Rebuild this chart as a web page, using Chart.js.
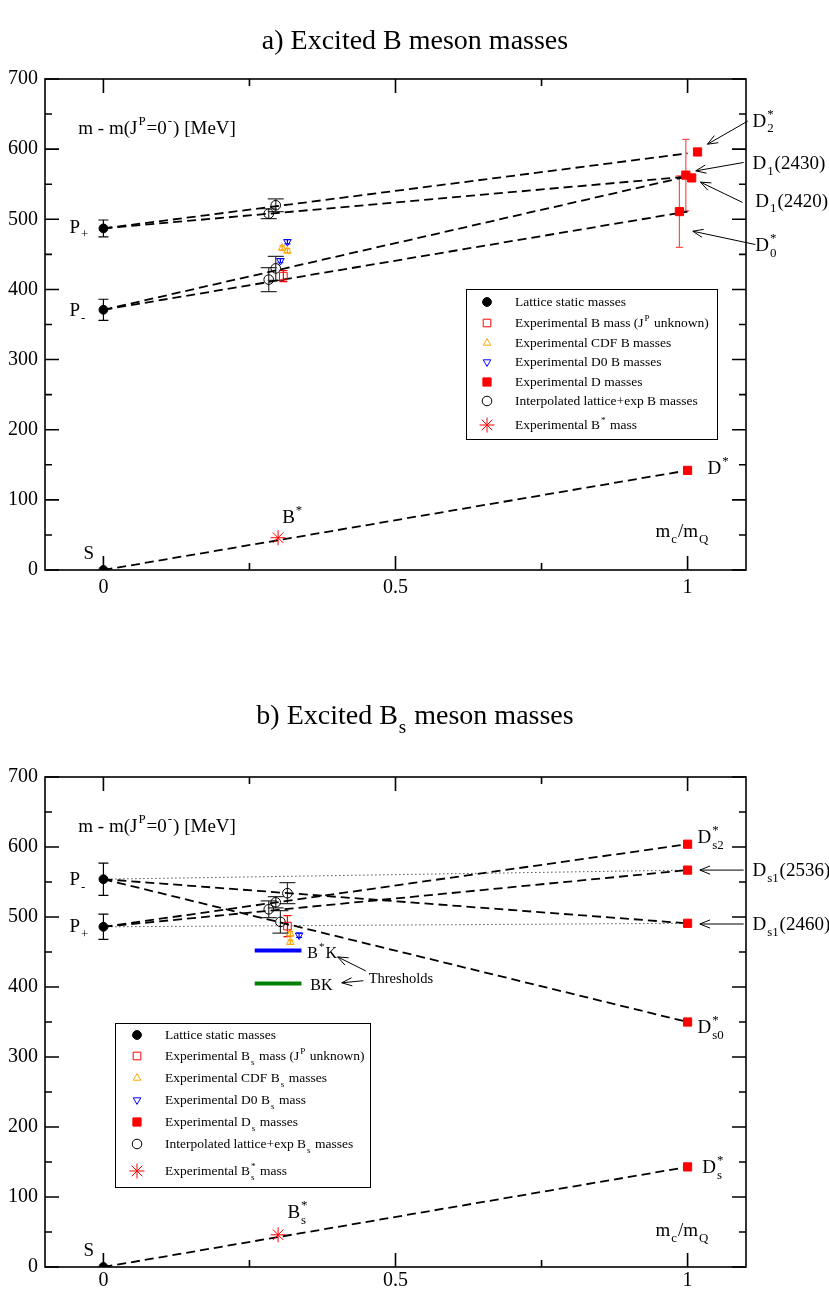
<!DOCTYPE html>
<html lang="en">
<head>
<meta charset="UTF-8">
<title>Excited B meson masses</title>
<script src="https://cdn.jsdelivr.net/npm/chart.js"></script>
<style>
  body { margin: 0; background: #fff; }
  .wrap { position: relative; width: 829px; height: 645px; }
</style>
</head>
<body>
<div class="wrap"><canvas id="chartB" width="829" height="645"></canvas></div>
<div class="wrap"><canvas id="chartBs" width="829" height="645"></canvas></div>

<script>
// x: m_c / m_Q , y: m - m(J^P=0^-) in MeV
const xTicks = [0, 0.5, 1];
const yTicks = [0, 100, 200, 300, 400, 500, 600, 700];

// ---- a) B mesons ----
const latticeB = [0, 371, 487];            // S, P-, P+ (x = 0)
const latticeBErr = [0, 15, 12];
const interpBX = [0.283, 0.295, 0.283, 0.295];
const interpB = [414, 430, 508, 520];
const interpBErr = [17, 17, 7, 9];
const expBX = [0.308];
const expB = [419];
const expBErr = [8];
const cdfBX = [0.306, 0.315];
const cdfB = [459, 455];
const cdfBErr = [3, 3];
const d0BX = [0.303, 0.315];
const d0B = [441, 468];
const d0BErr = [3, 3];
const expDX = [1, 0.986, 0.997, 1.007, 1.017];
const expD = [142, 511, 563, 559, 596];    // D*, D0*, D1(2430), D1(2420), D2*
const expDErr = [0, 51, 51, 0, 0];
const bStarX = [0.299];
const bStar = [46];
const fitBFrom = [0, 371, 371, 487, 487];  // dashed lines x=0 -> x=1
const fitBTo = [142, 511, 561, 561, 594];

// ---- b) Bs mesons ----
const latticeBs = [0, 554, 486];           // S, P-, P+
const latticeBsErr = [0, 23, 18];
const interpBsX = [0.283, 0.295, 0.303, 0.315];
const interpBs = [511, 521, 493, 534];
const interpBsErr = [12, 8, 16, 15];
const expBsX = [0.315];
const expBs = [487];
const expBsErr = [15];
const cdfBsX = [0.32, 0.32];
const cdfBs = [476, 464];
const cdfBsErr = [3, 3];
const d0BsX = [0.335];
const d0Bs = [474];
const d0BsErr = [3];
const expDsX = [1, 1, 1, 1, 1];
const expDs = [143, 350, 491, 567, 604];   // Ds*, Ds0*, Ds1(2460), Ds1(2536), Ds2*
const bsStarX = [0.299];
const bsStar = [46];
const fitBsFrom = [0, 554, 554, 486, 486];
const fitBsTo = [143, 350, 491, 567, 604];
const flatBsFrom = [554, 486];             // dotted lines
const flatBsTo = [567, 491];
const thresholdX = [0.259, 0.339];
const thresholds = [452, 405];             // B*K, BK

const FONT = '"Liberation Serif", "DejaVu Serif", serif';

function pts(xs, ys) {
  return ys.map((y, i) => ({ x: Array.isArray(xs) ? xs[i] : xs, y: y }));
}

function marker(data, style, errs, errColor, cap) {
  const ds = {
    data: data,
    showLine: false,
    pointStyle: style.shape,
    pointRadius: style.r,
    pointRotation: style.rot || 0,
    pointBackgroundColor: style.fill,
    pointBorderColor: style.stroke,
    pointBorderWidth: style.bw || 1
  };
  if (errs) { ds.errors = errs; ds.errColor = errColor; ds.errCap = cap; }
  return ds;
}

function lines(from, to, dash, width) {
  return from.map((f, i) => ({
    data: [{ x: 0, y: f }, { x: 1, y: to[i] }],
    showLine: true, pointRadius: 0, borderColor: '#000',
    borderWidth: width, borderDash: dash
  }));
}

const NONE = 'rgba(0,0,0,0)';
const S_LAT = { shape: 'circle', r: 4.4, fill: '#000', stroke: '#000' };
const S_INT = { shape: 'circle', r: 4.8, fill: NONE, stroke: '#000' };
const S_EXPB = { shape: 'rect', r: 5.4, fill: NONE, stroke: '#ff0000' };
const S_CDF = { shape: 'triangle', r: 4.4, fill: NONE, stroke: '#ffa500' };
const S_D0 = { shape: 'triangle', r: 4.4, rot: 180, fill: NONE, stroke: '#0000ff' };
const S_D = { shape: 'rect', r: 5.8, fill: '#ff0000', stroke: '#ff0000' };
const S_STAR = { shape: 'star', r: 7.5, fill: NONE, stroke: '#ff0000' };

// rich text: strings, or {sub, sup} pieces
function rich(ctx, x, y, parts, size, dry) {
  const base = y + size * 0.33;
  let cx = x;
  ctx.textBaseline = 'alphabetic';
  ctx.textAlign = 'left';
  parts.forEach(p => {
    if (typeof p === 'string') {
      ctx.font = size + 'px ' + FONT;
      if (!dry) ctx.fillText(p, cx, base);
      cx += ctx.measureText(p).width;
    } else {
      const s = size * 0.68;
      ctx.font = s + 'px ' + FONT;
      let w = 0;
      if (p.sub) {
        if (!dry) ctx.fillText(p.sub, cx + 1, base + size * 0.3);
        w = ctx.measureText(p.sub).width;
      }
      if (p.sup) {
        if (!dry) ctx.fillText(p.sup, cx + 1, base - size * 0.48);
        w = Math.max(w, ctx.measureText(p.sup).width);
      }
      cx += w + 2;
    }
  });
  return cx - x;
}

function arrow(ctx, x1, y1, x2, y2) {
  const a = Math.atan2(y2 - y1, x2 - x1), L = 11, w = 0.38;
  ctx.beginPath();
  ctx.moveTo(x1, y1); ctx.lineTo(x2, y2);
  ctx.moveTo(x2 - L * Math.cos(a - w), y2 - L * Math.sin(a - w));
  ctx.lineTo(x2, y2);
  ctx.lineTo(x2 - L * Math.cos(a + w), y2 - L * Math.sin(a + w));
  ctx.stroke();
}

function symbol(ctx, ds, x, y) {
  ctx.save();
  ctx.fillStyle = ds.pointBackgroundColor;
  ctx.strokeStyle = ds.pointBorderColor;
  ctx.lineWidth = ds.pointBorderWidth;
  if (Chart.helpers && Chart.helpers.drawPoint) {
    Chart.helpers.drawPoint(ctx, {
      pointStyle: ds.pointStyle, rotation: ds.pointRotation, radius: ds.pointRadius,
      borderWidth: ds.pointBorderWidth
    }, x, y);
  } else {
    ctx.beginPath(); ctx.arc(x, y, ds.pointRadius, 0, Math.PI * 2); ctx.fill(); ctx.stroke();
  }
  ctx.restore();
}

function makeDecor(spec) {
  return {
    id: 'decor',
    beforeDatasetsDraw(chart) {
      const ctx = chart.ctx, ys = chart.scales.y;
      chart.data.datasets.forEach((ds, i) => {
        if (!ds.errors) return;
        chart.getDatasetMeta(i).data.forEach((pt, j) => {
          const e = ds.errors[j];
          if (!e) return;
          const v = ds.data[j].y;
          const t = ys.getPixelForValue(v + e), b = ys.getPixelForValue(v - e);
          ctx.save();
          ctx.strokeStyle = ds.errColor;
          ctx.lineWidth = 1.2;
          ctx.beginPath();
          ctx.moveTo(pt.x, t); ctx.lineTo(pt.x, b);
          ctx.moveTo(pt.x - ds.errCap, t); ctx.lineTo(pt.x + ds.errCap, t);
          ctx.moveTo(pt.x - ds.errCap, b); ctx.lineTo(pt.x + ds.errCap, b);
          ctx.stroke();
          ctx.restore();
        });
      });
    },
    afterDraw(chart) {
      const ctx = chart.ctx, a = chart.chartArea;
      const xs = chart.scales.x, ys = chart.scales.y;
      const X = v => xs.getPixelForValue(v), Y = v => ys.getPixelForValue(v);
      ctx.save();
      ctx.strokeStyle = '#000';
      ctx.fillStyle = '#000';
      ctx.lineWidth = 1.6;
      ctx.strokeRect(a.left, a.top, a.right - a.left, a.bottom - a.top);
      ctx.beginPath();
      for (let v = 0; v <= 700; v += 50) {
        const py = Y(v), L = v % 100 === 0 ? 14 : 7;
        ctx.moveTo(a.left, py); ctx.lineTo(a.left + L, py);
        ctx.moveTo(a.right, py); ctx.lineTo(a.right - L, py);
      }
      for (let k = 0; k <= 4; k++) {
        const v = k * 0.25, px = X(v), L = k % 2 === 0 ? 14 : 7;
        ctx.moveTo(px, a.bottom); ctx.lineTo(px, a.bottom - L);
        ctx.moveTo(px, a.top); ctx.lineTo(px, a.top + L);
      }
      ctx.stroke();

      // title
      const tw = rich(ctx, 0, 0, spec.title, 28, true);
      rich(ctx, 415 - tw / 2, spec.titleY, spec.title, 28);

      // labels and arrows
      spec.texts.forEach(t => rich(ctx, X(t.x), Y(t.y), t.parts, t.size || 19));
      ctx.lineWidth = 1;
      spec.arrows.forEach(r => arrow(ctx, X(r[0]), Y(r[1]), X(r[2]), Y(r[3])));

      // legend box
      const lg = spec.legend;
      ctx.lineWidth = 1;
      ctx.strokeRect(lg.box[0] + 0.5, lg.box[1] + 0.5, lg.box[2] - lg.box[0], lg.box[3] - lg.box[1]);
      lg.items.forEach((it, i) => {
        const ds = chart.data.datasets[it.ds];
        symbol(ctx, ds, lg.symX, lg.rows[i]);
        ctx.fillStyle = '#000';
        rich(ctx, lg.textX, lg.rows[i], it.parts, 13.5);
      });
      ctx.restore();
    }
  };
}

function scales(xAxisHeight, xPad) {
  const tickFont = { family: FONT, size: 20 };
  return {
    x: {
      type: 'linear', min: -0.1, max: 1.1,
      grid: { display: false, drawTicks: false }, border: { display: false },
      afterBuildTicks: s => { s.ticks = xTicks.map(v => ({ value: v })); },
      afterFit: s => { s.height = xAxisHeight; },
      ticks: { padding: xPad, color: '#000', font: tickFont, maxRotation: 0, autoSkip: false, callback: v => String(v) }
    },
    y: {
      type: 'linear', min: 0, max: 700,
      grid: { display: false, drawTicks: false }, border: { display: false },
      afterBuildTicks: s => { s.ticks = yTicks.map(v => ({ value: v })); },
      afterFit: s => { s.width = 45; },
      ticks: { padding: 7, color: '#000', font: tickFont, callback: v => String(v) }
    }
  };
}

function build(id, datasets, spec, padTop, xAxisHeight, xPad) {
  new Chart(document.getElementById(id), {
    type: 'scatter',
    data: { datasets: datasets },
    options: {
      responsive: false,
      animation: false,
      devicePixelRatio: 1,
      layout: { padding: { top: padTop, right: 83, bottom: 0, left: 0 } },
      plugins: { legend: { display: false }, tooltip: { enabled: false } },
      scales: scales(xAxisHeight, xPad)
    },
    plugins: [makeDecor(spec)]
  });
}

// ---- chart a ----
const dsB = [
  marker(pts(0, latticeB), S_LAT, latticeBErr, '#000', 5),
  marker(pts(expBX, expB), S_EXPB, expBErr, '#ff0000', 4),
  marker(pts(cdfBX, cdfB), S_CDF, cdfBErr, '#ffa500', 3),
  marker(pts(d0BX, d0B), S_D0, d0BErr, '#0000ff', 3),
  marker(pts(expDX, expD), S_D, expDErr, '#ff5050', 3.5),
  marker(pts(interpBX, interpB), S_INT, interpBErr, '#333', 8),
  marker(pts(bStarX, bStar), S_STAR)
].concat(lines(fitBFrom, fitBTo, [9, 5], 1.8));

build('chartB', dsB, {
  title: ['a) Excited B meson masses'],
  titleY: 40,
  texts: [
    { x: -0.043, y: 630, parts: ['m - m(J', { sup: 'P' }, '=0', { sup: '-' }, ') [MeV]'] },
    { x: -0.058, y: 490, parts: ['P', { sub: '+' }] },
    { x: -0.058, y: 371, parts: ['P', { sub: '-' }] },
    { x: -0.034, y: 24, parts: ['S'] },
    { x: 0.306, y: 76, parts: ['B', { sup: '*' }] },
    { x: 1.034, y: 146, parts: ['D', { sup: '*' }] },
    { x: 0.945, y: 56, parts: ['m', { sub: 'c' }, '/m', { sub: 'Q' }] },
    { x: 1.111, y: 641, parts: ['D', { sub: '2', sup: '*' }] },
    { x: 1.111, y: 580, parts: ['D', { sub: '1' }, '(2430)'] },
    { x: 1.116, y: 527, parts: ['D', { sub: '1' }, '(2420)'] },
    { x: 1.116, y: 464, parts: ['D', { sub: '0', sup: '*' }] }
  ],
  arrows: [
    [1.103, 640, 1.034, 607],
    [1.096, 581, 1.014, 569],
    [1.094, 524, 1.022, 553],
    [1.116, 464, 1.009, 483]
  ],
  legend: {
    box: [466, 289, 717, 439], symX: 487, textX: 515,
    rows: [302, 323, 343, 362, 382, 401, 425],
    items: [
      { ds: 0, parts: ['Lattice static masses'] },
      { ds: 1, parts: ['Experimental B mass (J', { sup: 'P' }, ' unknown)'] },
      { ds: 2, parts: ['Experimental CDF B masses'] },
      { ds: 3, parts: ['Experimental D0 B masses'] },
      { ds: 4, parts: ['Experimental D masses'] },
      { ds: 5, parts: ['Interpolated lattice+exp B masses'] },
      { ds: 6, parts: ['Experimental B', { sup: '*' }, ' mass'] }
    ]
  }
}, 79, 75, 6);

// ---- chart b ----
const thresholdSets = thresholds.map((t, i) => ({
  data: [{ x: thresholdX[0], y: t }, { x: thresholdX[1], y: t }],
  showLine: true, pointRadius: 0, borderWidth: 4,
  borderColor: i === 0 ? '#0000ff' : '#008000'
}));
const flatSets = flatBsFrom.map((f, i) => ({
  data: [{ x: 0, y: f }, { x: 1, y: flatBsTo[i] }],
  showLine: true, pointRadius: 0, borderColor: '#000', borderWidth: 1, borderDash: [1, 3]
}));

const dsBs = [
  marker(pts(0, latticeBs), S_LAT, latticeBsErr, '#000', 5),
  marker(pts(expBsX, expBs), S_EXPB, expBsErr, '#ff0000', 4),
  marker(pts(cdfBsX, cdfBs), S_CDF, cdfBsErr, '#ffa500', 3),
  marker(pts(d0BsX, d0Bs), S_D0, d0BsErr, '#0000ff', 3),
  marker(pts(expDsX, expDs), S_D),
  marker(pts(interpBsX, interpBs), S_INT, interpBsErr, '#333', 8),
  marker(pts(bsStarX, bsStar), S_STAR)
].concat(thresholdSets, lines(fitBsFrom, fitBsTo, [9, 5], 1.8), flatSets);

build('chartBs', dsBs, {
  title: ['b) Excited B', { sub: 's' }, ' meson masses'],
  titleY: 70,
  texts: [
    { x: -0.043, y: 630, parts: ['m - m(J', { sup: 'P' }, '=0', { sup: '-' }, ') [MeV]'] },
    { x: -0.058, y: 554, parts: ['P', { sub: '-' }] },
    { x: -0.058, y: 487, parts: ['P', { sub: '+' }] },
    { x: -0.034, y: 24, parts: ['S'] },
    { x: 0.315, y: 79, parts: ['B', { sub: 's', sup: '*' }] },
    { x: 1.025, y: 143, parts: ['D', { sub: 's', sup: '*' }] },
    { x: 0.945, y: 53, parts: ['m', { sub: 'c' }, '/m', { sub: 'Q' }] },
    { x: 1.017, y: 614, parts: ['D', { sub: 's2', sup: '*' }] },
    { x: 1.111, y: 567, parts: ['D', { sub: 's1' }, '(2536)'] },
    { x: 1.111, y: 490, parts: ['D', { sub: 's1' }, '(2460)'] },
    { x: 1.017, y: 343, parts: ['D', { sub: 's0', sup: '*' }] },
    { x: 0.349, y: 449, parts: ['B', { sup: '*' }, 'K'], size: 16 },
    { x: 0.354, y: 403, parts: ['BK'], size: 16 },
    { x: 0.454, y: 413, parts: ['Thresholds'], size: 14.5 }
  ],
  arrows: [
    [1.096, 567, 1.021, 567],
    [1.096, 490, 1.021, 490],
    [0.449, 423, 0.401, 443],
    [0.445, 409, 0.408, 406]
  ],
  legend: {
    box: [115, 378, 370, 542], symX: 137, textX: 165,
    rows: [390, 411, 433, 455, 477, 499, 526],
    items: [
      { ds: 0, parts: ['Lattice static masses'] },
      { ds: 1, parts: ['Experimental B', { sub: 's' }, ' mass (J', { sup: 'P' }, ' unknown)'] },
      { ds: 2, parts: ['Experimental CDF B', { sub: 's' }, ' masses'] },
      { ds: 3, parts: ['Experimental D0 B', { sub: 's' }, ' mass'] },
      { ds: 4, parts: ['Experimental D', { sub: 's' }, ' masses'] },
      { ds: 5, parts: ['Interpolated lattice+exp B', { sub: 's' }, ' masses'] },
      { ds: 6, parts: ['Experimental B', { sub: 's', sup: '*' }, ' mass'] }
    ]
  }
}, 132, 23, 2);
</script>
</body>
</html>
